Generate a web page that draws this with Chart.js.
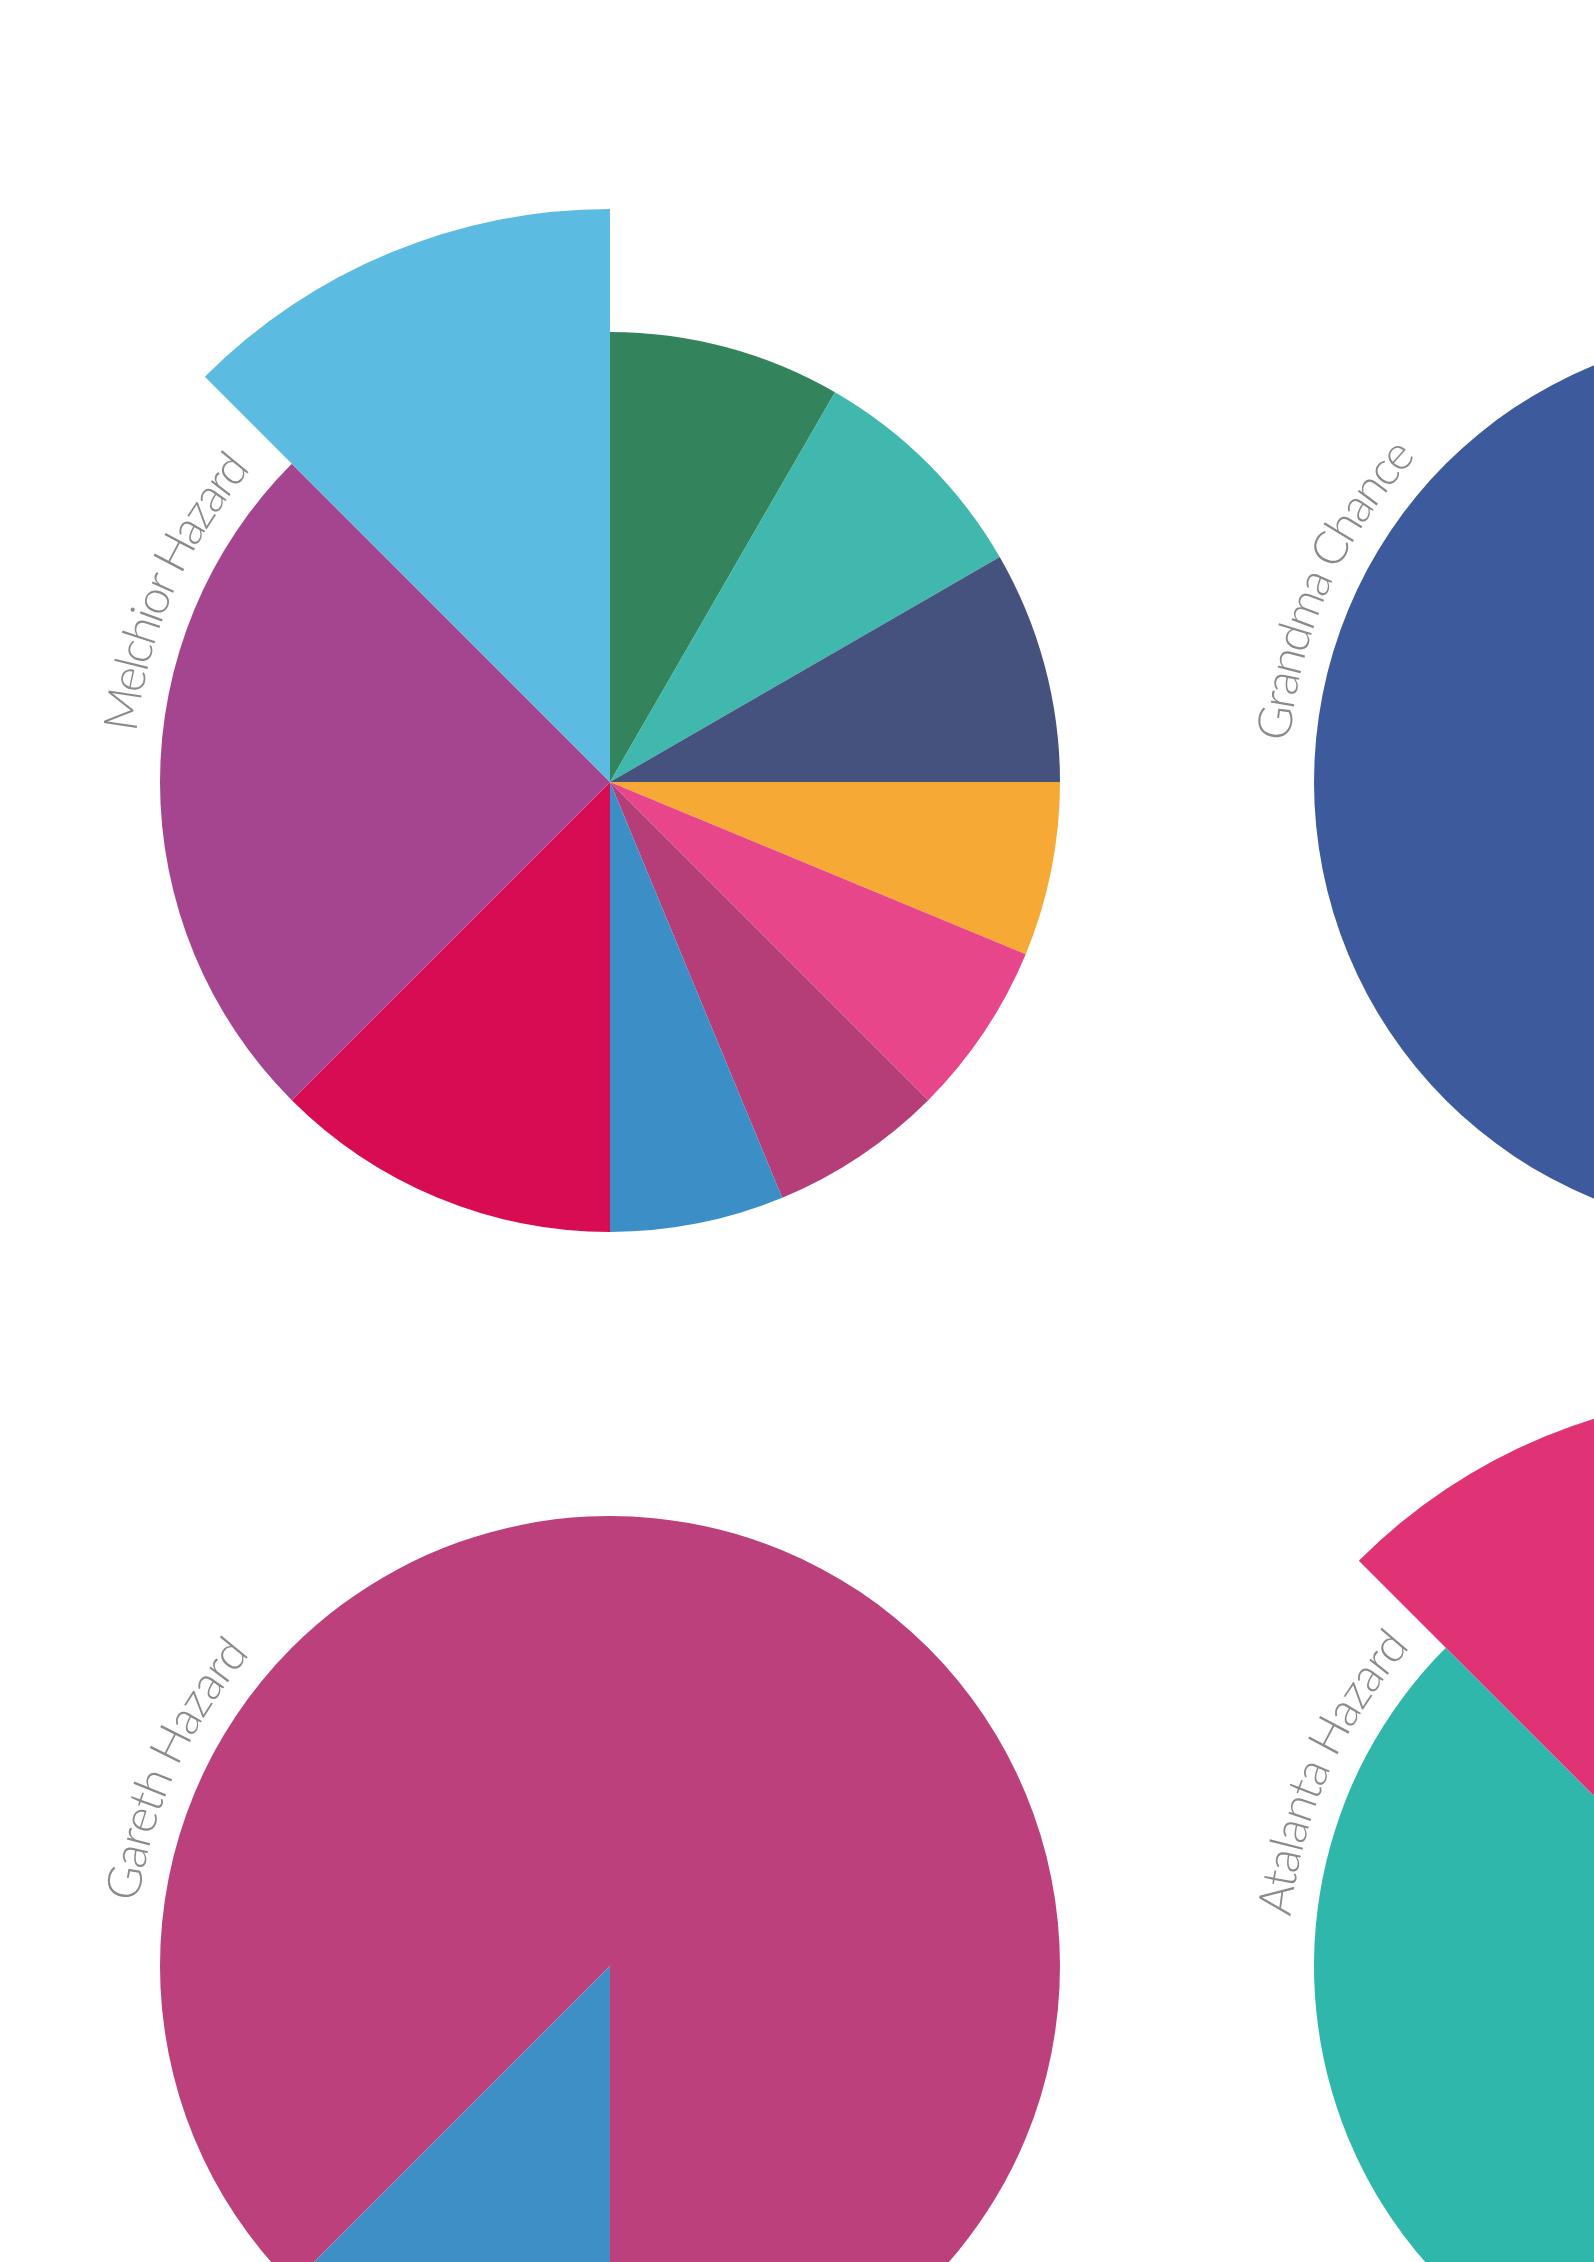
<!DOCTYPE html>
<html><head><meta charset="utf-8">
<script src="https://cdn.jsdelivr.net/npm/chart.js@4.4.1/dist/chart.umd.min.js"></script>
<style>
html,body{margin:0;padding:0;background:#fff;}
body{width:1594px;height:2262px;overflow:hidden;position:relative;}
canvas{position:absolute;}
#labels{position:absolute;left:0;top:0;}
</style></head><body>
<canvas id="c1" width="1200" height="1200" style="left:10px;top:182px"></canvas>
<canvas id="c2" width="1200" height="1200" style="left:1164px;top:182px"></canvas>
<canvas id="c3" width="1200" height="1200" style="left:10px;top:1366px"></canvas>
<canvas id="c4" width="1200" height="1200" style="left:1164px;top:1366px"></canvas>
<svg id="labels" width="1594" height="2262" xmlns="http://www.w3.org/2000/svg"></svg>
<script>
// ---- data ----
const chartNames = ["Melchior Hazard", "Grandma Chance", "Gareth Hazard", "Atalanta Hazard"];

const melchiorCategories = ["1","2","3","4","5","6","7","8","9","10"];
const melchiorValues = [45, 45, 45, 45, 45, 45, 45, 45, 45, 57.3];
const melchiorAngles = [30, 30, 30, 22.5, 22.5, 22.5, 22.5, 45, 90, 45];
const melchiorColors = ["#33845c","#40b8ae","#45527e","#f6aa35","#e8468a","#b53e78","#3c8ec6","#d70c52","#a5458f","#5bbbe1"];

const grandmaCategories = ["1"];
const grandmaValues = [45];
const grandmaAngles = [360];
const grandmaColors = ["#3c5a9c"];

const garethCategories = ["1","2"];
const garethValues = [45, 45];
const garethAngles = [315, 45];
const garethColors = ["#bb407c","#3d8fc6"];
const garethStart = 225;

const atalantaCategories = ["1","2"];
const atalantaValues = [45, 57.3];
const atalantaAngles = [315, 45];
const atalantaColors = ["#2fb7ab","#df3376"];

const scaleMax = 60;

// ---- charts ----
function makeChart(id, labels, values, angles, colors, startAngle) {
  return new Chart(document.getElementById(id), {
    type: 'polarArea',
    data: {
      labels: labels,
      datasets: [{
        data: values,
        backgroundColor: colors,
        borderWidth: 0,
        angle: (ctx) => angles[ctx.dataIndex]
      }]
    },
    options: {
      responsive: false,
      animation: false,
      layout: { padding: 0 },
      plugins: { legend: { display: false }, tooltip: { enabled: false } },
      scales: {
        r: {
          display: false,
          min: 0,
          max: scaleMax,
          startAngle: startAngle || 0,
          ticks: { display: false },
          grid: { display: false },
          angleLines: { display: false },
          pointLabels: { display: false }
        }
      }
    }
  });
}

const charts = [
  makeChart('c1', melchiorCategories, melchiorValues, melchiorAngles, melchiorColors, 0),
  makeChart('c2', grandmaCategories, grandmaValues, grandmaAngles, grandmaColors, 0),
  makeChart('c3', garethCategories, garethValues, garethAngles, garethColors, garethStart),
  makeChart('c4', atalantaCategories, atalantaValues, atalantaAngles, atalantaColors, 0)
];

// ---- curved labels ----
const labelMid = [293.5, 294, 294.3, 294];
const labelLen = [292, 318, 276, 300];
const svg = document.getElementById('labels');
const NS = 'http://www.w3.org/2000/svg';
charts.forEach((ch, i) => {
  const cv = ch.canvas;
  const r = ch.scales.r;
  const cx = cv.offsetLeft + r.xCenter;
  const cy = cv.offsetTop + r.yCenter;
  const rb = 476;
  const a0 = (labelMid[i] - 60) * Math.PI / 180;
  const a1 = (labelMid[i] + 60) * Math.PI / 180;
  const p = document.createElementNS(NS, 'path');
  const x0 = cx + rb * Math.sin(a0), y0 = cy - rb * Math.cos(a0);
  const x1 = cx + rb * Math.sin(a1), y1 = cy - rb * Math.cos(a1);
  p.setAttribute('id', 'lp' + i);
  p.setAttribute('d', `M ${x0} ${y0} A ${rb} ${rb} 0 0 1 ${x1} ${y1}`);
  p.setAttribute('fill', 'none');
  svg.appendChild(p);
  const t = document.createElementNS(NS, 'text');
  t.setAttribute('font-family', 'Lato, "Open Sans", sans-serif');
  t.setAttribute('font-weight', '300');
  t.setAttribute('font-size', '47');
  t.setAttribute('fill', '#8a8a8a');
  const tp = document.createElementNS(NS, 'textPath');
  tp.setAttribute('href', '#lp' + i);
  tp.setAttribute('startOffset', '50%');
  tp.setAttribute('text-anchor', 'middle');
  tp.setAttribute('textLength', labelLen[i]);
  tp.setAttribute('lengthAdjust', 'spacing');
  tp.textContent = chartNames[i];
  t.appendChild(tp);
  svg.appendChild(t);
});
</script>
</body></html>
